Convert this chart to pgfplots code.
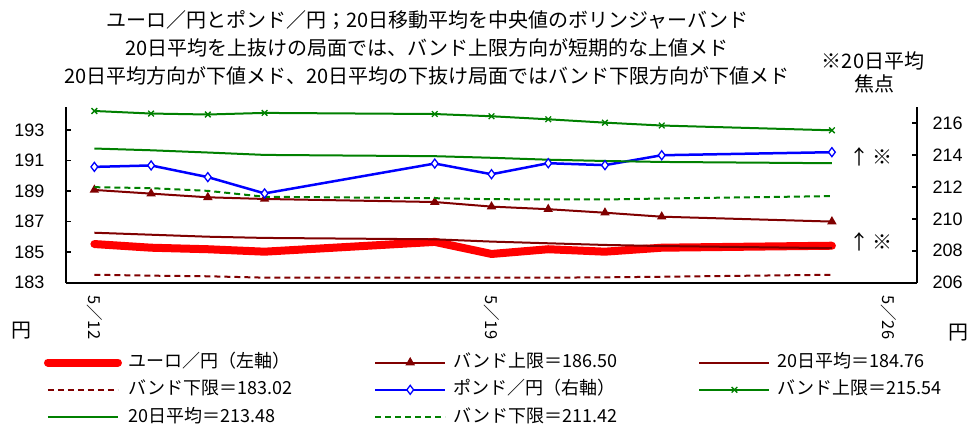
\documentclass[border=0pt]{standalone}
\usepackage{fontspec}
\setmainfont{Noto Sans CJK JP}
\newfontfamily\arial{Liberation Sans}
\usepackage{pgfplots}
\usepackage{pgfplotstable}
\pgfplotsset{compat=1.18}
\definecolor{dred}{RGB}{128,0,0}
\definecolor{dgreen}{RGB}{0,128,0}
\definecolor{bblue}{RGB}{0,0,255}
\definecolor{rred}{RGB}{255,0,0}

\pgfplotstableread{
d eur eup eavg elo
12 185.03 188.57 185.77 183.02
13 184.79 188.33 185.64 182.96
14 184.69 188.09 185.51 182.92
15 184.53 187.98 185.43 182.83
18 185.17 187.78 185.34 182.83
19 184.38 187.48 185.19 182.83
20 184.69 187.31 185.08 182.83
21 184.53 187.08 184.97 182.85
22 184.79 186.82 184.90 182.89
25 184.92 186.50 184.76 183.02
}\eurdata

\pgfplotstableread{
d gbp gup gavg glo
12 213.25 216.75 214.40 211.98
13 213.34 216.59 214.29 211.92
14 212.61 216.53 214.15 211.75
15 211.59 216.63 214.00 211.38
18 213.46 216.56 213.92 211.29
19 212.79 216.42 213.82 211.23
20 213.48 216.23 213.70 211.21
21 213.36 216.02 213.62 211.21
22 213.98 215.84 213.56 211.27
25 214.17 215.54 213.48 211.42
}\gbpdata

\pgfplotsset{
  base/.style={
    width=851pt, height=175.7pt, scale only axis,
    at={(66pt,144.3pt)}, anchor=south west,
    xmin=11.5, xmax=26.5,
    axis line style={line width=1.8pt, black, -},
    tick align=inside,
    major tick length=5pt,
    tick style={black, line width=1.5pt},
    /pgf/number format/assume math mode=true,
    clip=false,
  },
  redeur/.style={rred, line width=8pt, line join=round, line cap=round},
  eupst/.style={dred, line width=2pt, mark=triangle*, mark size=3.5pt, mark options={fill=dred, solid}},
  eavgst/.style={dred, line width=2pt},
  elost/.style={dred, line width=2pt, dash pattern=on 6pt off 4pt},
  gbpst/.style={bblue, line width=2.5pt, mark=diamond*, mark size=4.5pt, mark options={fill=white, line width=1.3pt, solid}},
  gupst/.style={dgreen, line width=2pt, mark=x, mark size=4pt, mark options={line width=1.3pt, solid}},
  gavgst/.style={dgreen, line width=2pt},
  glost/.style={dgreen, line width=2pt, dash pattern=on 6pt off 4pt},
}

\begin{document}
\begin{tikzpicture}
\useasboundingbox (0,0) rectangle (971pt,427pt);

\begin{axis}[base,
  axis y line*=left, axis x line*=bottom,
  ymin=182.5, ymax=194,
  ytick={182.5,184.5,186.5,188.5,190.5,192.5},
  yticklabels={183,185,187,189,191,193},
  yticklabel style={font=\arial\fontsize{18}{18}\selectfont, anchor=east, xshift=-18pt},
  xtick={12,19,26},
  xticklabels={5／12,5／19,5／26},
  x tick style={draw=none},
  xticklabel style={font=\fontsize{16.5}{16.5}\selectfont, rotate=-90, anchor=west, xshift=9pt},
]
\addplot[redeur] table[x=d,y=eur]{\eurdata};
\addplot[eupst] table[x=d,y=eup]{\eurdata};
\addplot[eavgst] table[x=d,y=eavg]{\eurdata};
\addplot[elost] table[x=d,y=elo]{\eurdata};
\end{axis}

\begin{axis}[base,
  axis y line*=right, axis x line=none,
  ymin=206, ymax=217,
  ytick={206,208,210,212,214,216},
  yticklabel style={font=\arial\fontsize{18}{18}\selectfont, anchor=west, xshift=12pt},
  xtick=\empty,
  legend columns=3,
  legend image code/.code={\draw[mark repeat=2,mark phase=2,#1] plot coordinates {(0pt,0pt) (35pt,0pt) (70pt,0pt)};},
  legend style={draw=none, fill=none, inner sep=0pt, outer sep=0pt,
    at={(axis description cs:-0.0259,-0.403)}, anchor=north west,
    font=\fontsize{18}{18}\selectfont,
    nodes={inner sep=0pt, text height=14pt, text depth=4pt},
    row sep=9.3pt,
    /tikz/every odd column/.append style={column sep=7pt},
    /tikz/every even column/.append style={column sep=85pt}},
]
\addlegendimage{redeur}
\addlegendentry{\makebox[160pt][l]{ユーロ／円（左軸）}}
\addlegendimage{eupst}
\addlegendentry{\makebox[160pt][l]{バンド上限＝186.50}}
\addlegendimage{eavgst}
\addlegendentry{\makebox[160pt][l]{20日平均＝184.76}}
\addlegendimage{elost}
\addlegendentry{\makebox[160pt][l]{バンド下限＝183.02}}
\addplot[gbpst] table[x=d,y=gbp]{\gbpdata};
\addlegendentry{\makebox[160pt][l]{ポンド／円（右軸）}}
\addplot[gupst] table[x=d,y=gup]{\gbpdata};
\addlegendentry{\makebox[160pt][l]{バンド上限＝215.54}}
\addplot[gavgst] table[x=d,y=gavg]{\gbpdata};
\addlegendentry{\makebox[160pt][l]{20日平均＝213.48}}
\addplot[glost] table[x=d,y=glo]{\gbpdata};
\addlegendentry{\makebox[160pt][l]{バンド下限＝211.42}}
\end{axis}

\begin{scope}[every node/.style={inner sep=0pt, font=\fontsize{20}{20}\selectfont}]
\node at (427pt,407pt) {ユーロ／円とポンド／円；20日移動平均を中央値のボリンジャーバンド};
\node at (427pt,379pt) {20日平均を上抜けの局面では、バンド上限方向が短期的な上値メド};
\node at (427pt,351pt) {20日平均方向が下値メド、20日平均の下抜け局面ではバンド下限方向が下値メド};
\node at (873pt,366pt) {※20日平均};
\node at (874pt,343pt) {焦点};
\end{scope}
\begin{scope}[every node/.style={inner sep=0pt, font=\fontsize{20}{20}\selectfont}]
\node at (871pt,270pt) {↑\,※};
\node at (871pt,185pt) {↑\,※};
\node at (22pt,96pt) {円};
\node at (958pt,94pt) {円};
\end{scope}
\end{tikzpicture}
\end{document}
